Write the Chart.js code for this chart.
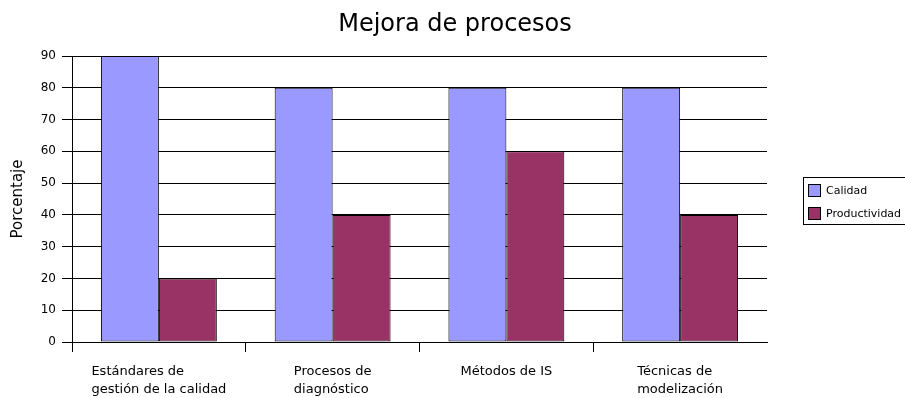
<!DOCTYPE html>
<html>
<head>
<meta charset="utf-8">
<script src="https://cdn.jsdelivr.net/npm/chart.js@4/dist/chart.umd.min.js"></script>
<style>
  html, body { margin: 0; padding: 0; background: #fff; }
  #wrap { width: 905px; height: 398px; }
</style>
</head>
<body>
<div id="wrap"><canvas id="chart" width="905" height="398"></canvas></div>
<script>
const chartTitle = 'Mejora de procesos';
const axisTitle = 'Porcentaje';
const categories = [
  ['Estándares de', 'gestión de la calidad'],
  ['Procesos de', 'diagnóstico'],
  ['Métodos de IS'],
  ['Técnicas de', 'modelización']
];
const seriesNames = ['Calidad', 'Productividad'];
const calidad = [90, 80, 80, 80];
const productividad = [20, 40, 60, 40];
const seriesColors = ['#9999FF', '#993366'];
const yTicks = [0, 10, 20, 30, 40, 50, 60, 70, 80, 90];

const FONT = "'DejaVu Sans', sans-serif";

// title, category labels and the boxed legend are painted here
const extras = {
  id: 'extras',
  afterDraw(chart) {
    const ctx = chart.ctx;
    const x = chart.scales.x;
    ctx.save();
    ctx.fillStyle = '#000';

    ctx.font = '24px ' + FONT;
    ctx.textAlign = 'center';
    ctx.textBaseline = 'alphabetic';
    ctx.fillText(chartTitle, 455, 31);

    // multi-line labels: block centred on the category, lines left aligned
    ctx.font = '13px ' + FONT;
    ctx.textAlign = 'left';
    ctx.textBaseline = 'middle';
    chart.data.labels.forEach((lines, i) => {
      const cx = x.getPixelForValue(i);
      const w = Math.max(...lines.map(l => ctx.measureText(l).width));
      lines.forEach((l, j) => ctx.fillText(l, cx - w / 2, 372 + j * 18));
    });

    ctx.strokeStyle = '#000';
    ctx.lineWidth = 1;
    ctx.strokeRect(803.5, 177.5, 120, 47);
    ctx.font = '11px ' + FONT;
    chart.data.datasets.forEach((ds, i) => {
      const y = 184 + i * 23;
      ctx.fillStyle = ds.backgroundColor;
      ctx.fillRect(808, y, 13, 13);
      ctx.strokeRect(808.5, y + 0.5, 12, 12);
      ctx.fillStyle = '#000';
      ctx.fillText(ds.label, 826, y + 7);
    });
    ctx.restore();
  }
};

new Chart(document.getElementById('chart'), {
  type: 'bar',
  data: {
    labels: categories,
    datasets: [
      { label: seriesNames[0], data: calidad, backgroundColor: seriesColors[0] },
      { label: seriesNames[1], data: productividad, backgroundColor: seriesColors[1] }
    ]
  },
  options: {
    responsive: false,
    animation: false,
    layout: { padding: { top: 56, right: 138, bottom: 0, left: 0 } },
    datasets: {
      bar: {
        categoryPercentage: 0.667,
        barPercentage: 1,
        borderColor: '#000',
        borderWidth: 1,
        borderSkipped: false
      }
    },
    plugins: {
      legend: { display: false },
      title: { display: false },
      tooltip: { enabled: false }
    },
    scales: {
      x: {
        grid: {
          drawOnChartArea: false,
          drawTicks: true,
          tickLength: 10,
          tickColor: c => c.type === 'tick' ? '#000' : 'rgba(0,0,0,0)'
        },
        border: { display: true, color: '#000', width: 1 },
        ticks: { display: false },
        afterFit: s => { s.height = 56; }
      },
      y: {
        min: 0,
        max: 90,
        afterBuildTicks: s => { s.ticks = yTicks.map(v => ({ value: v })); },
        grid: { color: '#000', lineWidth: 1, tickLength: 10, tickColor: '#000' },
        border: { display: true, color: '#000', width: 1 },
        ticks: { color: '#000', padding: 6, font: { family: FONT, size: 12 } },
        title: {
          display: true,
          text: axisTitle,
          color: '#000',
          font: { family: FONT, size: 15 },
          padding: { top: 9, bottom: 0 }
        },
        afterFit: s => { s.width = 72; }
      }
    }
  },
  plugins: [extras]
});
</script>
</body>
</html>
